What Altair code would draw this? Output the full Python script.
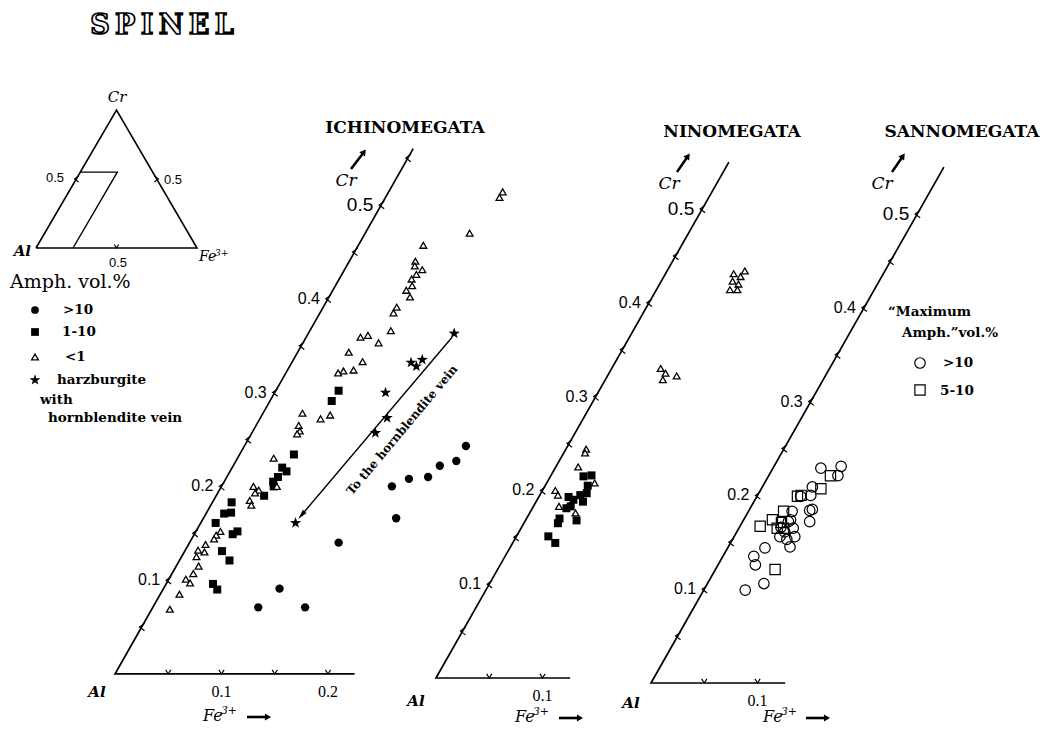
import altair as alt
import pandas as pd

TITLE = "S\u2009P\u2009I\u2009N\u2009E\u2009L"
PANEL_NAMES = ["ICHINOMEGATA", "NINOMEGATA", "SANNOMEGATA"]

# ---------------- data: (Fe3+, Cr) fractions ----------------
# ICHINOMEGATA
P1_GT10_FE = [0.208, 0.207, 0.194, 0.189, 0.172, 0.160, 0.181, 0.140, 0.109, 0.099, 0.143]
P1_GT10_CR = [0.243, 0.227, 0.222, 0.210, 0.208, 0.200, 0.166, 0.140, 0.091, 0.071, 0.071]

P1_1TO10_FE = [0.059, 0.058, 0.051, 0.047, 0.053, 0.048, 0.046, 0.049, 0.045, 0.018,
               0.017, 0.023, 0.014, 0.039, 0.036, 0.035, 0.047, 0.044, 0.051]
P1_1TO10_CR = [0.302, 0.291, 0.234, 0.220, 0.216, 0.210, 0.205, 0.200, 0.190, 0.183,
               0.171, 0.172, 0.161, 0.152, 0.149, 0.131, 0.121, 0.096, 0.090]

P1_LT1_FE = [0.107, 0.107, 0.098, 0.061, 0.062, 0.064, 0.073, 0.070, 0.068, 0.072,
             0.069, 0.076, 0.069, 0.069, 0.076, 0.071, 0.057, 0.051, 0.048, 0.066,
             0.062, 0.053, 0.049, 0.037, 0.057, 0.064, 0.040, 0.044, 0.043, 0.034,
             0.030, 0.037, 0.035, 0.034, 0.038, 0.023, 0.021, 0.021, 0.016, 0.012,
             0.019, 0.014, 0.021, 0.020, 0.016, 0.022, 0.018, 0.017, 0.052]
P1_LT1_CR = [0.514, 0.508, 0.470, 0.457, 0.440, 0.435, 0.431, 0.426, 0.421, 0.414,
             0.409, 0.402, 0.391, 0.385, 0.366, 0.353, 0.361, 0.359, 0.343, 0.333,
             0.324, 0.323, 0.321, 0.278, 0.272, 0.276, 0.265, 0.259, 0.256, 0.230,
             0.200, 0.196, 0.193, 0.185, 0.180, 0.152, 0.148, 0.144, 0.138, 0.132,
             0.130, 0.125, 0.115, 0.107, 0.101, 0.097, 0.085, 0.069, 0.200]

P1_STAR_FE = [0.137, 0.112, 0.119, 0.121, 0.104, 0.119, 0.116, 0.089]
P1_STAR_CR = [0.363, 0.332, 0.328, 0.335, 0.300, 0.273, 0.257, 0.161]

# arrow "To the hornblendite vein" (start, end)
VEIN_ARROW_FE = [0.137, 0.0905]
VEIN_ARROW_CR = [0.359, 0.1695]

# NINOMEGATA
P2_LT1_FE = [0.073, 0.064, 0.072, 0.067, 0.074, 0.069, 0.076, 0.046, 0.053, 0.054,
             0.065, 0.019, 0.020, 0.021, 0.045, 0.012, 0.017, 0.024, 0.043]
P2_LT1_CR = [0.434, 0.431, 0.428, 0.423, 0.420, 0.414, 0.414, 0.330, 0.325, 0.318,
             0.322, 0.244, 0.240, 0.225, 0.208, 0.200, 0.195, 0.183, 0.176]

P2_1TO10_FE = [0.031, 0.038, 0.043, 0.038, 0.044, 0.028, 0.035, 0.032, 0.048, 0.031,
               0.032, 0.030, 0.040, 0.034, 0.040]
P2_1TO10_CR = [0.215, 0.216, 0.197, 0.195, 0.188, 0.193, 0.183, 0.181, 0.168, 0.170,
               0.165, 0.151, 0.144, 0.190, 0.205]

# SANNOMEGATA
P3_GT10_FE = [0.045, 0.063, 0.065, 0.047, 0.050, 0.041, 0.041, 0.057, 0.059, 0.063,
              0.043, 0.051, 0.045, 0.043, 0.057, 0.051, 0.058, 0.035, 0.029, 0.035,
              0.053, 0.039, 0.039, 0.044]
P3_GT10_CR = [0.229, 0.231, 0.221, 0.209, 0.200, 0.199, 0.183, 0.184, 0.185, 0.172,
              0.172, 0.165, 0.161, 0.156, 0.156, 0.153, 0.145, 0.144, 0.135, 0.126,
              0.106, 0.099, 0.166, 0.174]

P3_5TO10_FE = [0.058, 0.056, 0.038, 0.041, 0.033, 0.027, 0.019, 0.037, 0.042, 0.036, 0.056]
P3_5TO10_CR = [0.221, 0.207, 0.199, 0.200, 0.183, 0.174, 0.167, 0.171, 0.165, 0.165, 0.121]

# axes of the three partial diagrams
FE_AXIS_END = [0.225, 0.126, 0.126]
CR_AXIS_END = [0.56, 0.55, 0.55]
FE_TICKS = [[0.05, 0.10, 0.15, 0.20], [0.05, 0.10], [0.05, 0.10]]
CR_TICKS = [[0.05, 0.10, 0.15, 0.20, 0.25, 0.30, 0.35, 0.40, 0.45, 0.50, 0.55],
            [0.05, 0.10, 0.15, 0.20, 0.25, 0.30, 0.35, 0.40, 0.45, 0.50],
            [0.05, 0.10, 0.15, 0.20, 0.25, 0.30, 0.35, 0.40, 0.45, 0.50]]
CR_LABELS = [0.1, 0.2, 0.3, 0.4, 0.5]
FE_LABELS = [[0.1, 0.2], [0.1], [0.1]]

# inset triangle: outlined sub-region
INSET_REGION_FE = 0.23
INSET_REGION_CR = 0.55

# layout: origin of each partial diagram in ternary units
PANEL_X0 = [0.0, 0.3014, 0.5033]
PANEL_Y0 = [0.0, -0.0043, -0.0096]

# ---------------- helpers ----------------
def tern_df(fe_list, cr_list, p):
    rows = []
    for i, (fe, cr) in enumerate(zip(fe_list, cr_list)):
        rows.append({"Fe": fe, "Cr": cr, "X": PANEL_X0[p] + fe + cr / 2.0,
                     "Y": PANEL_Y0[p] + cr, "panel": PANEL_NAMES[p], "o": i})
    return pd.DataFrame(rows)


XS = alt.Scale(domain=[-0.10047, 0.87606], nice=False, zero=False)
YS = alt.Scale(domain=[-0.0576, 0.7100], nice=False, zero=False)


def base(df):
    return alt.Chart(df).encode(
        x=alt.X("X:Q", scale=XS, axis=None),
        y=alt.Y("Y:Q", scale=YS, axis=None),
    )


IXS = alt.Scale(domain=[-0.17391, 6.28571], nice=False, zero=False)
IYS = alt.Scale(domain=[-3.47826, 1.73913], nice=False, zero=False)


def ibase(df):
    return alt.Chart(df).encode(
        x=alt.X("X:Q", scale=IXS, axis=None),
        y=alt.Y("Y:Q", scale=IYS, axis=None),
    )


def idf(fe_list, cr_list):
    return pd.DataFrame({"X": [f + c / 2.0 for f, c in zip(fe_list, cr_list)],
                         "Y": list(cr_list), "o": list(range(len(fe_list)))})


def label(text, px, py, size=14, font="DejaVu Serif", weight="normal",
          style="normal", align="left", angle=0, **kw):
    props = dict(font=font, fontSize=size, fontWeight=weight, fontStyle=style,
                 align=align, baseline="middle", color="black")
    if angle:
        props["angle"] = angle
    props.update(kw)
    return alt.Chart(pd.DataFrame({"t": [text]})).mark_text(**props).encode(
        x=alt.value(px - 8), y=alt.value(py - 8), text="t:N")


def fe3(px, py, size=16):
    """'Fe' with raised '3+' starting at page x = px."""
    return [label("Fe", px, py, size=size, style="italic"),
            label("3+", px + size * 1.12, py - size * 0.32, size=size * 0.68,
                  style="italic")]


def sym(px, py, **kw):
    return alt.Chart(pd.DataFrame({"t": [0]})).mark_point(**kw).encode(
        x=alt.value(px - 8), y=alt.value(py - 8))


def arrow(x1, y1, x2, y2, head_angle):
    line = alt.Chart(pd.DataFrame({"t": [0]})).mark_rule(
        color="black", strokeWidth=2.6).encode(
        x=alt.value(x1 - 8), y=alt.value(y1 - 8),
        x2=alt.value(x2 - 8), y2=alt.value(y2 - 8))
    head = sym(x2, y2, shape="triangle-up", filled=True, color="black",
               size=50, opacity=1, angle=head_angle)
    return [line, head]


STAR = ("M0,-1L0.236,-0.325L0.951,-0.309L0.382,0.124L0.588,0.809L0,0.4"
        "L-0.588,0.809L-0.382,0.124L-0.951,-0.309L-0.236,-0.325Z")
CR_TICK = "M0.7,-0.9L-0.5,0L0.7,0.9"
FE_TICK = "M-0.7,-1.1L0,0L0.7,-1.1"

# ---------------- main diagrams ----------------
axis_rows, crt, fet, crl, crl5, fel = [], [], [], [], [], []
for p in range(3):
    axis_rows.append(tern_df([FE_AXIS_END[p], 0.0, 0.0], [0.0, 0.0, CR_AXIS_END[p]], p))
    crt.append(tern_df([0.0] * len(CR_TICKS[p]), CR_TICKS[p], p))
    fet.append(tern_df(FE_TICKS[p], [0.0] * len(FE_TICKS[p]), p))
    crl.append(tern_df([0.0] * 4, CR_LABELS[:4], p))
    crl5.append(tern_df([0.0], CR_LABELS[4:], p))
    fel.append(tern_df(FE_LABELS[p], [0.0] * len(FE_LABELS[p]), p))
axis_df = pd.concat(axis_rows, ignore_index=True)
crt_df = pd.concat(crt, ignore_index=True)
fet_df = pd.concat(fet, ignore_index=True)
crl_df = pd.concat(crl, ignore_index=True)
crl_df["lab"] = crl_df["Cr"].map(lambda v: f"{v:.1f}")
crl5_df = pd.concat(crl5, ignore_index=True)
crl5_df["lab"] = crl5_df["Cr"].map(lambda v: f"{v:.1f}")
fel_df = pd.concat(fel, ignore_index=True)
fel_df["lab"] = fel_df["Fe"].map(lambda v: f"{v:.1f}")

main_layers = [
    base(axis_df).mark_line(color="black", strokeWidth=1.7).encode(
        detail="panel:N", order="o:Q"),
    base(crt_df).mark_point(shape=CR_TICK, filled=False, color="black",
                            size=70, strokeWidth=1.2, opacity=1),
    base(fet_df).mark_point(shape=FE_TICK, filled=False, color="black",
                            size=55, strokeWidth=1.2, opacity=1),
    base(crl_df).mark_text(font="Liberation Sans", fontSize=16, align="right",
                           baseline="middle", dx=-8, color="black").encode(text="lab:N"),
    base(crl5_df).mark_text(font="Liberation Sans", fontSize=19, align="right",
                            baseline="middle", dx=-8, color="black").encode(text="lab:N"),
    base(fel_df).mark_text(font="Liberation Serif", fontSize=16, align="center",
                           baseline="middle", dy=18, color="black").encode(text="lab:N"),
]

# vein arrow
vein = tern_df(VEIN_ARROW_FE, VEIN_ARROW_CR, 0)
main_layers.append(base(vein).mark_line(color="black", strokeWidth=1.4).encode(order="o:Q"))
main_layers.append(base(vein.iloc[[1]]).mark_point(
    shape="M0,-1L0.45,0.9L-0.45,0.9Z", filled=True, color="black", size=110,
    angle=220, opacity=1))

# data points
gt10 = tern_df(P1_GT10_FE, P1_GT10_CR, 0)
sq = pd.concat([tern_df(P1_1TO10_FE, P1_1TO10_CR, 0),
                tern_df(P2_1TO10_FE, P2_1TO10_CR, 1)], ignore_index=True)
tri = pd.concat([tern_df(P1_LT1_FE, P1_LT1_CR, 0),
                 tern_df(P2_LT1_FE, P2_LT1_CR, 1)], ignore_index=True)
star = tern_df(P1_STAR_FE, P1_STAR_CR, 0)
ocirc = tern_df(P3_GT10_FE, P3_GT10_CR, 2)
osq = tern_df(P3_5TO10_FE, P3_5TO10_CR, 2)

main_layers += [
    base(gt10).mark_point(shape="circle", filled=True, color="black", size=70, opacity=1),
    base(sq).mark_point(shape="square", filled=True, color="black", size=64, opacity=1),
    base(tri).mark_point(shape="triangle-up", filled=True, fill="white", stroke="black",
                         strokeWidth=1.3, size=46, opacity=1),
    base(star).mark_point(shape=STAR, filled=True, color="black", size=140, opacity=1),
    base(ocirc).mark_point(shape="circle", filled=False, color="black", strokeWidth=1.2,
                           size=110, opacity=1),
    base(osq).mark_point(shape="square", filled=False, color="black", strokeWidth=1.2,
                         size=105, opacity=1),
]
main = alt.layer(*main_layers)

# ---------------- inset triangle ----------------
inset_layers = [
    ibase(idf([0.0, 1.0, 0.0, 0.0], [0.0, 0.0, 1.0, 0.0])).mark_line(
        color="black", strokeWidth=1.6).encode(order="o:Q"),
    ibase(idf([INSET_REGION_FE, INSET_REGION_FE, 0.0],
              [0.0, INSET_REGION_CR, INSET_REGION_CR])).mark_line(
        color="black", strokeWidth=1.4).encode(order="o:Q"),
    ibase(idf([0.0], [0.5])).mark_point(shape=CR_TICK, filled=False, color="black",
                                         size=45, strokeWidth=1.2, opacity=1),
    ibase(idf([0.5], [0.5])).mark_point(shape="M-0.7,-0.9L0.5,0L-0.7,0.9", filled=False,
                                         color="black", size=45, strokeWidth=1.2, opacity=1),
    ibase(idf([0.5], [0.0])).mark_point(shape=FE_TICK, filled=False, color="black",
                                         size=40, strokeWidth=1.2, opacity=1),
]
inset = alt.layer(*inset_layers)

# ---------------- text and legends ----------------
ann = [
    label(TITLE, 162, 26, size=27, weight="bold", align="center",
          fill="white", stroke="black", strokeWidth=1.7),
    label(PANEL_NAMES[0], 405, 128, size=17, weight="bold", align="center"),
    label(PANEL_NAMES[1], 732, 132, size=17, weight="bold", align="center"),
    label(PANEL_NAMES[2], 962, 132, size=17, weight="bold", align="center"),
    # inset labels
    label("Cr", 117, 97, size=15, style="italic", align="center"),
    label("0.5", 64, 178, size=13, font="Liberation Sans", align="right"),
    label("0.5", 164, 180, size=13, font="Liberation Sans"),
    label("0.5", 118, 263, size=13, font="Liberation Sans", align="center"),
    label("Al", 31, 251, size=15, weight="bold", style="italic", align="right"),
    # left legend
    label("Amph. vol.%", 10, 282, size=19),
    label(">10", 63, 310, size=13.5, weight="bold"),
    label("1-10", 62, 332, size=13.5, weight="bold"),
    label("<1", 65, 357, size=13.5, weight="bold"),
    label("harzburgite", 57, 380, size=13.5, weight="bold"),
    label("with", 40, 400, size=13.5, weight="bold"),
    label("hornblendite vein", 48, 418, size=13.5, weight="bold"),
    sym(35, 310, shape="circle", filled=True, color="black", size=60, opacity=1),
    sym(35, 332, shape="square", filled=True, color="black", size=60, opacity=1),
    sym(35, 357, shape="triangle-up", filled=False, color="black", size=46,
        strokeWidth=1.3, opacity=1),
    sym(35, 380, shape=STAR, filled=True, color="black", size=130, opacity=1),
    # right legend
    label("\u201cMaximum", 888, 312, size=13.5, weight="bold"),
    label("Amph.\u201dvol.%", 902, 333, size=13.5, weight="bold"),
    sym(920, 363, shape="circle", filled=False, color="black", size=110,
        strokeWidth=1.2, opacity=1),
    label(">10", 943, 363, size=13.5, weight="bold"),
    sym(920, 390, shape="square", filled=False, color="black", size=105,
        strokeWidth=1.2, opacity=1),
    label("5-10", 940, 391, size=13.5, weight="bold"),
    # axis names
    label("Cr", 346, 181, size=17, style="italic", align="center"),
    label("Cr", 669, 184, size=17, style="italic", align="center"),
    label("Cr", 882, 184, size=17, style="italic", align="center"),
    label("Al", 97, 692, size=15, weight="bold", style="italic", align="center"),
    label("Al", 416, 701, size=15, weight="bold", style="italic", align="center"),
    label("Al", 631, 703, size=15, weight="bold", style="italic", align="center"),
    label("To the hornblendite vein", 402, 430, size=12, weight="bold",
          align="center", angle=310),
]
ann += fe3(199, 257, size=14)
ann += fe3(203, 716, size=16)
ann += fe3(515, 717, size=16)
ann += fe3(763, 717, size=16)
ann += arrow(351, 169, 364, 152, 37)
ann += arrow(677, 172, 688, 156, 35)
ann += arrow(892, 172, 903, 156, 35)
ann += arrow(247, 717, 268, 717, 90)
ann += arrow(559, 718, 580, 718, 90)
ann += arrow(806, 718, 827, 718, 90)

chart = alt.layer(main, inset, *ann).resolve_scale(
    x="independent", y="independent"
).properties(
    width=1040, height=720,
    autosize=alt.AutoSizeParams(type="none"),
    padding=0,
    background="white",
).configure_view(stroke=None)

chart.save("out.html", embed_options={"renderer": "svg", "actions": False})
